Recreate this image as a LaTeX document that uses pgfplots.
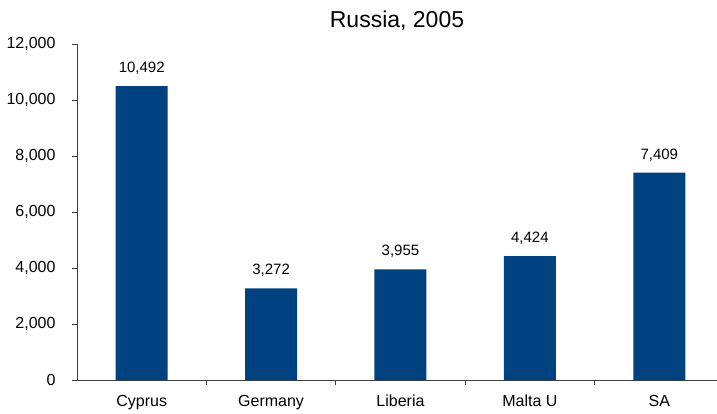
\documentclass[border=0pt]{standalone}
\usepackage{pgfplots}
\pgfplotsset{compat=1.18}
\usepackage{fontspec}
\setmainfont{Liberation Sans}
\definecolor{barblue}{RGB}{0,66,128}
\begin{document}
\begin{tikzpicture}
\begin{axis}[
  name=ax,
  scale only axis,
  width=640pt, height=336pt,
  xmin=-0.5, xmax=4.446,
  ymin=0, ymax=12000,
  axis x line*=bottom, axis y line*=left,
  axis line style={black!75, line width=0.8pt},
  scaled y ticks=false,
  ytick={0,2000,...,12000},
  yticklabel={\pgfmathprintnumber[fixed,precision=0,1000 sep={,}]{\tick}},
  xtick={0.5,1.5,2.5,3.5},
  xticklabels={},
  extra x ticks={0,1,2,3,4},
  extra x tick labels={Cyprus,Germany,Liberia,Malta U,SA},
  extra x tick style={major tick length=0pt, xticklabel style={yshift=-14.5pt, inner ysep=0pt, text height=12pt, text depth=3.5pt}},
  tick align=outside,
  major tick length=5pt,
  x tick style={draw=black!75, line width=0.8pt},
  y tick style={draw=black!75, line width=0.8pt},
  /pgf/number format/assume math mode=true,
  ticklabel style={font=\fontsize{16}{18}\selectfont},
  yticklabel style={xshift=-13pt},
  title={Russia, 2005},
  title style={font=\fontsize{23}{27}\selectfont, yshift=4pt},
  ybar, bar width=52pt,
  nodes near coords,
  nodes near coords style={font=\fontsize{15}{18}\selectfont, /pgf/number format/1000 sep={,}, yshift=8pt},
]
\addplot[fill=barblue, draw=none] coordinates {(0,10492) (1,3272) (2,3955) (3,4424) (4,7409)};
\end{axis}
\pgfresetboundingbox
\path ([shift={(-77pt,-33pt)}]ax.south west) rectangle ([shift={(0pt,44pt)}]ax.north east);
\end{tikzpicture}
\end{document}
